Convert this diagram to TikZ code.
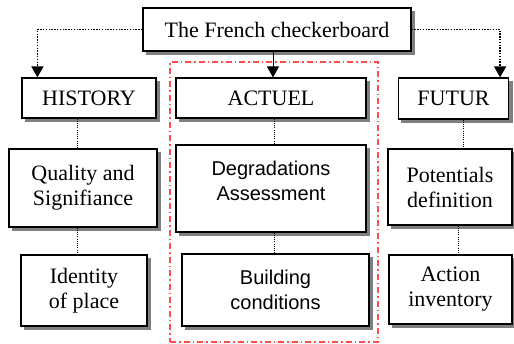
\documentclass[tikz,border=0pt]{standalone}
\usepackage{fontspec}
\setmainfont{Liberation Serif}
\newfontfamily\arialfont{Liberation Sans}
\usetikzlibrary{arrows.meta}

\begin{document}
\begin{tikzpicture}[x=1pt, y=-1pt,
        box/.style={draw, fill=white, line width=1.2pt, align=center, inner sep=0pt,
            font=\fontsize{22}{25}\selectfont,
            preaction={fill=gray, draw=gray, line width=1.2pt, transform canvas={xshift=3.5pt, yshift=-3.5pt}}},
        sansbox/.style={box, font=\arialfont\fontsize{20}{25}\selectfont},
        dotarrow/.style={line width=1.4pt, dash pattern=on 1.4pt off 1.4pt, -{Triangle[width=12pt,length=11pt]}},
        solidarrow/.style={line width=1pt, -{Triangle[width=12pt,length=11pt]}},
        dotline/.style={line width=0.9pt, dash pattern=on 1pt off 1.2pt},
        groupframe/.style={draw=red!70, line width=1.3pt, dash pattern=on 6pt off 3pt on 1.5pt off 3pt}]
        \clip (0,0) rectangle (514,344);

        % Group frame
        \node[groupframe, minimum width=208pt, minimum height=280pt] (frame) at (274,202) {};

        % Nodes
        \node[box, minimum width=268pt, minimum height=43pt] (top) at (277,29.5) {The French checkerboard};
        \node[box, minimum width=134pt, minimum height=40pt] (hist) at (89,98) {HISTORY};
        \node[box, minimum width=190pt, minimum height=40pt] (act) at (271,98) {ACTUEL};
        \node[box, minimum width=110pt, minimum height=41pt] (fut) at (453.5,98.5) {FUTUR};

        \node[box, minimum width=148pt, minimum height=78pt] (qual) at (83,188) {Quality and\\Signifiance};
        \node[sansbox, minimum width=190pt, minimum height=87pt] (degr) at (271,188.5) {Degradations\\Assessment\\[-9pt]\mbox{}};
        \node[box, minimum width=124pt, minimum height=76pt] (pot) at (450,187) {Potentials\\definition};

        \node[box, minimum width=126pt, minimum height=71pt] (iden) at (84,290.5) {Identity\\of place};
        \node[sansbox, minimum width=187pt, minimum height=72pt] (build) at (275.5,290) {Building\\conditions};
        \node[box, minimum width=123pt, minimum height=69pt] (actinv) at (450.5,289.5) {Action\\inventory};

        % Edges
        \draw[dotarrow] (top.west) -| ([xshift=16pt]hist.north west);
        \draw[dotarrow] (top.east) -| ([xshift=-9pt]fut.north east);
        \draw[solidarrow] ([xshift=2pt]act.north |- top.south) -- ([xshift=2pt]act.north);

        % Links
        \draw[dotline] ([xshift=-6pt]qual.north |- hist.south) -- ([xshift=-6pt]qual.north);
        \draw[dotline] ([xshift=-6pt]qual.south) -- ([xshift=-6pt]qual.south |- iden.north);
        \draw[dotline] ([xshift=3pt]degr.north |- act.south) -- ([xshift=3pt]degr.north);
        \draw[dotline] ([xshift=3pt]degr.south) -- ([xshift=3pt]degr.south |- build.north);
        \draw[dotline] ([xshift=13pt]pot.north |- fut.south) -- ([xshift=13pt]pot.north);
        \draw[dotline] ([xshift=8pt]pot.south) -- ([xshift=8pt]pot.south |- actinv.north);
\end{tikzpicture}
\end{document}
